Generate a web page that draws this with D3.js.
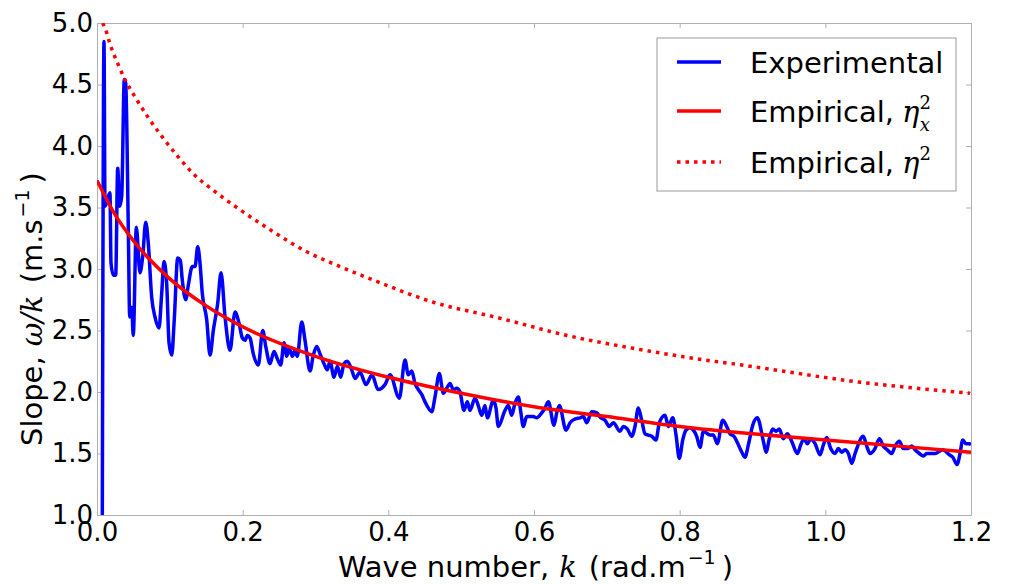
<!DOCTYPE html>
<html>
<head>
<meta charset="utf-8">
<script src="https://cdn.jsdelivr.net/npm/d3@7"></script>
<style>
body { margin: 0; background: #fff; }
text { font-family: "DejaVu Sans", sans-serif; fill: #000; }
.math { font-family: "DejaVu Serif", serif; font-style: italic; }
.axis path, .axis line { stroke: #b0b0b0; }
</style>
</head>
<body>
<div id="vis"></div>
<script>
const FRAME_WIDTH = 1009;
const FRAME_HEIGHT = 584;
const MARGINS = {left: 97, right: 38, top: 23, bottom: 69};

// tick labels
const xTicks = [0.0, 0.2, 0.4, 0.6, 0.8, 1.0, 1.2];
const yTicks = [1.0, 1.5, 2.0, 2.5, 3.0, 3.5, 4.0, 4.5, 5.0];

// experimental slope
const kExp = [0.0073, 0.0096, 0.011, 0.0178, 0.0192, 0.0224, 0.0257, 0.0284, 0.0312, 0.0339,
  0.0375, 0.0394, 0.043, 0.0449, 0.0476, 0.0498, 0.054, 0.059, 0.0627, 0.0669,
  0.0704, 0.0751, 0.0796, 0.0851, 0.0888, 0.092, 0.0957, 0.0989, 0.1026, 0.1061,
  0.1108, 0.1144, 0.1171, 0.1218, 0.1254, 0.1309, 0.1346, 0.1383, 0.1414, 0.1446,
  0.1506, 0.1552, 0.1597, 0.1657, 0.1703, 0.1758, 0.1826, 0.1895, 0.195, 0.1995,
  0.2032, 0.2064, 0.2101, 0.2146, 0.2215, 0.2275, 0.232, 0.2375, 0.243, 0.2476,
  0.2522, 0.2568, 0.2605, 0.264, 0.2682, 0.2719, 0.275, 0.2811, 0.2856, 0.2925,
  0.297, 0.3017, 0.3062, 0.3117, 0.3162, 0.3199, 0.3254, 0.33, 0.3346, 0.3391,
  0.3437, 0.3497, 0.3543, 0.3611, 0.3694, 0.3776, 0.3858, 0.3954, 0.4023, 0.4151,
  0.4229, 0.4274, 0.4321, 0.4366, 0.4412, 0.4458, 0.4504, 0.4596, 0.4641, 0.47,
  0.4755, 0.4802, 0.4847, 0.4892, 0.4939, 0.4984, 0.5039, 0.5084, 0.5121, 0.519,
  0.5235, 0.5282, 0.5327, 0.5359, 0.5441, 0.5478, 0.551, 0.5602, 0.5647, 0.5694,
  0.5739, 0.5785, 0.5818, 0.5853, 0.59, 0.5991, 0.6037, 0.6106, 0.6151, 0.6197,
  0.6275, 0.6312, 0.6348, 0.644, 0.6495, 0.6563, 0.6632, 0.6677, 0.6724, 0.6792,
  0.6861, 0.6916, 0.6975, 0.7034, 0.7089, 0.7181, 0.7226, 0.7281, 0.7342, 0.7387,
  0.7432, 0.7479, 0.7524, 0.757, 0.7616, 0.7675, 0.7721, 0.7799, 0.7845, 0.7905,
  0.795, 0.7995, 0.8042, 0.8087, 0.8142, 0.8188, 0.8234, 0.828, 0.8325, 0.8417,
  0.8462, 0.8517, 0.8591, 0.8646, 0.8691, 0.8746, 0.8838, 0.8897, 0.8943, 0.9003,
  0.9066, 0.9149, 0.9186, 0.9231, 0.9278, 0.9323, 0.9368, 0.9423, 0.9478, 0.9538,
  0.9616, 0.9662, 0.9708, 0.9753, 0.98, 0.9859, 0.9927, 0.9973, 1.0019, 1.0074,
  1.0133, 1.0179, 1.0225, 1.0271, 1.0316, 1.0363, 1.0408, 1.0522, 1.0568, 1.0614,
  1.0682, 1.0742, 1.0796, 1.0851, 1.0912, 1.0957, 1.1016, 1.1071, 1.1126, 1.1187,
  1.1232, 1.1291, 1.1346, 1.1392, 1.1506, 1.1612, 1.1703, 1.1749, 1.1812, 1.1849,
  1.1887, 1.1932, 1.1977, 1.2];
const slopeExp = [1.00, 4.85, 3.51, 3.62, 3.05, 2.95, 2.95, 3.82, 3.51, 3.59,
  4.54, 4.51, 3.32, 2.61, 2.69, 2.46, 3.34, 2.97, 3.10, 3.38,
  3.21, 2.77, 2.61, 2.52, 2.80, 3.06, 2.88, 2.40, 2.30, 2.59,
  3.09, 3.07, 2.91, 2.75, 2.87, 3.02, 3.02, 3.18, 3.05, 2.80,
  2.59, 2.30, 2.50, 2.72, 2.97, 2.61, 2.34, 2.65, 2.56, 2.44,
  2.42, 2.46, 2.44, 2.31, 2.22, 2.50, 2.36, 2.23, 2.33, 2.27,
  2.22, 2.40, 2.29, 2.36, 2.29, 2.34, 2.29, 2.57, 2.42, 2.17,
  2.30, 2.37, 2.31, 2.23, 2.18, 2.25, 2.12, 2.21, 2.12, 2.23,
  2.25, 2.18, 2.11, 2.16, 2.06, 2.14, 2.02, 2.06, 2.14, 1.95,
  2.26, 2.14, 2.17, 2.07, 2.02, 1.98, 1.92, 1.84, 1.96, 2.15,
  1.99, 2.03, 2.07, 2.02, 2.03, 2.00, 1.85, 1.92, 1.85, 1.95,
  1.89, 1.81, 1.89, 1.79, 1.93, 1.87, 1.72, 1.85, 1.89, 1.81,
  1.91, 1.96, 1.84, 1.72, 1.80, 1.80, 1.79, 1.83, 1.87, 1.92,
  1.73, 1.83, 1.89, 1.69, 1.75, 1.78, 1.79, 1.80, 1.75, 1.84,
  1.83, 1.79, 1.77, 1.72, 1.75, 1.68, 1.72, 1.70, 1.64, 1.72,
  1.87, 1.77, 1.66, 1.65, 1.64, 1.61, 1.75, 1.81, 1.72, 1.79,
  1.65, 1.46, 1.61, 1.69, 1.71, 1.69, 1.64, 1.55, 1.68, 1.65,
  1.65, 1.58, 1.77, 1.72, 1.66, 1.64, 1.53, 1.47, 1.57, 1.73,
  1.79, 1.60, 1.51, 1.62, 1.70, 1.68, 1.70, 1.62, 1.66, 1.60,
  1.50, 1.57, 1.62, 1.58, 1.62, 1.58, 1.49, 1.57, 1.63, 1.54,
  1.50, 1.54, 1.51, 1.53, 1.50, 1.42, 1.50, 1.64, 1.56, 1.50,
  1.54, 1.62, 1.56, 1.53, 1.50, 1.56, 1.60, 1.54, 1.54, 1.56,
  1.53, 1.50, 1.48, 1.50, 1.50, 1.53, 1.49, 1.47, 1.41, 1.50,
  1.61, 1.58, 1.58, 1.57];

// empirical curve with eta_x^2
const kFitX = [0, 0.025, 0.05, 0.1, 0.15, 0.2, 0.3, 0.4, 0.5, 0.6, 0.7, 0.8, 0.9, 1.0, 1.1, 1.2];
const slopeFitX = [3.72, 3.44, 3.23, 2.92, 2.70, 2.53, 2.29, 2.12, 1.99, 1.88, 1.80, 1.72, 1.66, 1.61, 1.56, 1.51];

// empirical curve with eta^2
const kFit = [0.0078, 0.0133, 0.0178, 0.0293, 0.0384, 0.0522, 0.0704, 0.0888, 0.1117, 0.1346,
  0.1597, 0.1895, 0.2375, 0.288, 0.3337, 0.3794, 0.4618, 0.5533, 0.645, 0.7364,
  0.8234, 0.8966, 1.0339, 1.1987];
const slopeFit = [5.00, 4.92, 4.83, 4.66, 4.54, 4.40, 4.23, 4.08, 3.91, 3.76,
  3.64, 3.51, 3.32, 3.14, 3.02, 2.91, 2.73, 2.60, 2.46, 2.355,
  2.27, 2.21, 2.09, 1.99];

const legendLabels = ["Experimental", "Empirical,", "Empirical,"];

const innerW = FRAME_WIDTH - MARGINS.left - MARGINS.right;
const innerH = FRAME_HEIGHT - MARGINS.top - MARGINS.bottom;

const FRAME = d3.select("#vis")
  .append("svg")
    .attr("width", FRAME_WIDTH)
    .attr("height", FRAME_HEIGHT);

const xScale = d3.scaleLinear().domain([0, 1.2]).range([0, innerW]);
const yScale = d3.scaleLinear().domain([1.0, 5.0]).range([innerH, 0]);

const g = FRAME.append("g")
  .attr("transform", "translate(" + MARGINS.left + "," + MARGINS.top + ")");

g.append("clipPath").attr("id", "clip")
  .append("rect").attr("width", innerW).attr("height", innerH);

// axes, ticks pointing inwards
const fmt = d3.format(".1f");
g.append("g").attr("class", "axis")
  .attr("transform", "translate(0," + innerH + ")")
  .call(d3.axisBottom(xScale).tickValues(xTicks).tickFormat(fmt).tickSizeInner(-5).tickSizeOuter(0).tickPadding(8))
  .call(a => a.selectAll("text").attr("font-size", 26).attr("font-family", "DejaVu Sans"));
g.append("g").attr("class", "axis")
  .call(d3.axisLeft(yScale).tickValues(yTicks).tickFormat(fmt).tickSizeInner(-5).tickSizeOuter(0).tickPadding(4))
  .call(a => a.selectAll("text").attr("font-size", 26).attr("font-family", "DejaVu Sans"));
g.append("g").attr("class", "axis")
  .call(d3.axisTop(xScale).tickValues(xTicks).tickFormat("").tickSizeInner(-5).tickSizeOuter(0));
g.append("g").attr("class", "axis")
  .attr("transform", "translate(" + innerW + ",0)")
  .call(d3.axisRight(yScale).tickValues(yTicks).tickFormat("").tickSizeInner(-5).tickSizeOuter(0));

const lines = g.append("g").attr("clip-path", "url(#clip)");

const lineExp = d3.line()
  .x((d, i) => xScale(kExp[i]))
  .y(d => yScale(d))
  .curve(d3.curveMonotoneX);
const lineFitX = d3.line()
  .x((d, i) => xScale(kFitX[i]))
  .y(d => yScale(d))
  .curve(d3.curveMonotoneX);
const lineFit = d3.line()
  .x((d, i) => xScale(kFit[i]))
  .y(d => yScale(d))
  .curve(d3.curveMonotoneX);

lines.append("path").datum(slopeExp)
  .attr("d", lineExp)
  .attr("fill", "none").attr("stroke", "#0000ff").attr("stroke-width", 3.5)
  .attr("stroke-linejoin", "round");
lines.append("path").datum(slopeFitX)
  .attr("d", lineFitX)
  .attr("fill", "none").attr("stroke", "#ff0000").attr("stroke-width", 3.5);
lines.append("path").datum(slopeFit)
  .attr("d", lineFit)
  .attr("fill", "none").attr("stroke", "#ff0000").attr("stroke-width", 3.5)
  .attr("stroke-dasharray", "3.5,5");

// legend
const legend = FRAME.append("g").attr("transform", "translate(657,38)");
legend.append("rect")
  .attr("width", 299).attr("height", 153)
  .attr("fill", "#fff").attr("stroke", "#999").attr("stroke-width", 1);

const legendStyles = [
  {color: "#0000ff", dash: null},
  {color: "#ff0000", dash: null},
  {color: "#ff0000", dash: "3.5,5"}
];
const rowY = [24, 73, 124];

legendLabels.forEach(function (label, i) {
  legend.append("line")
    .attr("x1", 20).attr("x2", 64)
    .attr("y1", rowY[i]).attr("y2", rowY[i])
    .attr("stroke", legendStyles[i].color).attr("stroke-width", 3.5)
    .attr("stroke-dasharray", legendStyles[i].dash);
  const t = legend.append("text")
    .attr("x", 93).attr("y", rowY[i] + 11)
    .attr("font-size", 29)
    .text(label);
  if (i > 0) {
    t.append("tspan").attr("class", "math").attr("dx", 8).text("η");
    t.append("tspan").attr("font-family", "DejaVu Serif").attr("font-size", 18)
      .attr("dy", -13).text("2");
    if (i === 1) {
      t.append("tspan").attr("class", "math").attr("font-size", 18)
        .attr("dx", -11).attr("dy", 22).text("x");
    }
  }
});

// axis titles
const xTitle = FRAME.append("text")
  .attr("x", 338).attr("y", 577)
  .attr("font-size", 29);
xTitle.append("tspan").text("Wave number,");
xTitle.append("tspan").attr("class", "math").attr("dx", 10).text("k");
xTitle.append("tspan").attr("dx", 12).text("(rad.m");
xTitle.append("tspan").attr("font-size", 19).attr("dy", -13).attr("dx", 2).text("−1");
xTitle.append("tspan").attr("dy", 13).attr("dx", 6).text(")");

const yTitle = FRAME.append("text")
  .attr("transform", "translate(42,446) rotate(-90)")
  .attr("font-size", 29);
yTitle.append("tspan").text("Slope,");
yTitle.append("tspan").attr("class", "math").attr("dx", 10).text("ω/k");
yTitle.append("tspan").attr("dx", 12).text("(m.s");
yTitle.append("tspan").attr("font-size", 19).attr("dy", -13).attr("dx", 2).text("−1");
yTitle.append("tspan").attr("dy", 13).attr("dx", 6).text(")");
</script>
</body>
</html>
